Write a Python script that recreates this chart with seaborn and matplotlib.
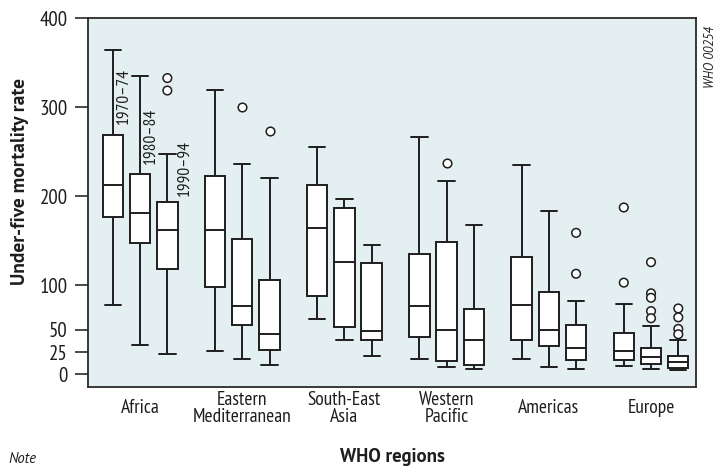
import numpy as np
import pandas as pd
import matplotlib
matplotlib.use("Agg")
import matplotlib.pyplot as plt
import seaborn as sns

# ---------------- data ----------------
regions = ["Africa", "Eastern\nMediterranean", "South-East\nAsia",
           "Western\nPacific", "Americas", "Europe"]
periods = ["1970–74", "1980–84", "1990–94"]

# five-number summaries: rows = regions, columns = periods
whisker_low = [[78, 33, 23], [26, 17, 10], [62, 38, 21],
               [17, 8, 6], [17, 8, 6], [9, 5.6, 4.5]]
q1 = [[177, 148, 118], [98, 55, 27], [88, 53, 38],
      [42, 15, 10.5], [39, 31.5, 16], [16.5, 12, 6.7]]
median = [[213, 181, 162], [162, 76.5, 45], [165, 126, 49],
          [76.5, 50, 38], [78, 49.5, 30], [26, 19.5, 13.5]]
q3 = [[269, 225, 194], [223, 152, 106], [213, 187, 125],
      [135, 149, 73], [132, 93, 55], [46, 30, 20.6]]
whisker_high = [[365, 335, 248], [320, 236, 221], [255, 197, 145],
                [267, 217, 168], [235, 183, 82], [79, 54, 39]]

# outliers
outlier_region = [0, 0, 1, 1, 3, 4, 4, 5, 5, 5, 5, 5, 5, 5, 5, 5, 5, 5]
outlier_period = [2, 2, 1, 2, 1, 2, 2, 0, 0, 1, 1, 1, 1, 1, 2, 2, 2, 2]
outlier_value = [333, 319, 300, 274, 237, 159, 113, 187.5, 103,
                 126, 91, 86, 71, 63, 74, 64, 51, 45]

y_ticks = [0, 25, 50, 100, 200, 300, 400]

# ---------------- build tables ----------------
rows = []
for i, r in enumerate(regions):
    for j, p in enumerate(periods):
        for v in (whisker_low[i][j], q1[i][j], median[i][j], q3[i][j], whisker_high[i][j]):
            rows.append({"region": r, "period": p, "value": v})
df = pd.DataFrame(rows)

odf = pd.DataFrame({
    "region": [regions[i] for i in outlier_region],
    "period": [periods[j] for j in outlier_period],
    "value": outlier_value,
})

# ---------------- style ----------------
sns.set_style("ticks")
narrow = ["PT Sans Narrow", "DejaVu Sans"]
wide = ["PT Sans", "DejaVu Sans"]
plt.rcParams["font.family"] = narrow
ink = "#1e1e1e"

fig = plt.figure(figsize=(7.17, 4.68), dpi=100)
ax = fig.add_axes([0.1227, 0.1737, 0.9707 - 0.1227, 0.9605 - 0.1737])
ax.set_facecolor("#e3eff0")

white = {p: "white" for p in periods}
sns.boxplot(data=df, x="region", y="value", hue="period",
            order=regions, hue_order=periods, whis=(0, 100),
            palette=white, saturation=1, linecolor=ink, linewidth=1.4,
            width=0.8, gap=0.25, dodge=True, showfliers=False,
            legend=False, capwidths=0.16, ax=ax)

sns.stripplot(data=odf, x="region", y="value", hue="period",
              order=regions, hue_order=periods, dodge=True, jitter=False,
              palette=white, edgecolor=ink, linewidth=1.1, size=6.2,
              legend=False, ax=ax, zorder=5)

ax.set_xlim(-0.51, 5.44)
ax.set_ylim(-14, 400)
ax.set_yticks(y_ticks)
ax.set_yticklabels([str(t) for t in y_ticks])

for s in ax.spines.values():
    s.set_visible(True)
    s.set_color("#2a2a2a")
    s.set_linewidth(1.3)

ax.tick_params(axis="y", direction="out", length=9.5, width=1.2,
               color="#2a2a2a", pad=5, labelsize=15, labelcolor=ink)
ax.tick_params(axis="x", length=0, pad=15.5, labelsize=14, labelcolor=ink)
for lab in ax.get_xticklabels():
    lab.set_va("center")
    lab.set_linespacing(0.92)

ax.set_xlabel("WHO regions", fontsize=13.5, fontweight="bold",
              family=wide, color=ink)
ax.xaxis.set_label_coords(0.5, -0.19)
ax.xaxis.label.set_va("center")
ax.set_ylabel("Under-five mortality rate", fontsize=14, fontweight="bold",
              family=wide, color=ink)
ax.yaxis.set_label_coords(-0.112, 0.556)
ax.yaxis.label.set_va("center")

# period labels beside the Africa boxes
hue_offsets = np.linspace(-0.8 / 3, 0.8 / 3, 3)
label_shift = [0.105, 0.098, 0.17]
label_pad = [12, 11, 6]
for j, p in enumerate(periods):
    ax.text(0 + hue_offsets[j] + label_shift[j], q3[0][j] + label_pad[j], p,
            rotation=90, ha="center", va="bottom", fontsize=12.5, color=ink)

fig.text(711 / 717, 1 - 57 / 468, "WHO 00254", rotation=90, ha="center",
         va="center", fontsize=9, style="italic", family=wide, color=ink)
fig.text(0.012, 1 - 452 / 468, "Note", ha="left", va="top", fontsize=10.5,
         style="italic", family=wide, color=ink)

fig.savefig("out.png", dpi=100)
